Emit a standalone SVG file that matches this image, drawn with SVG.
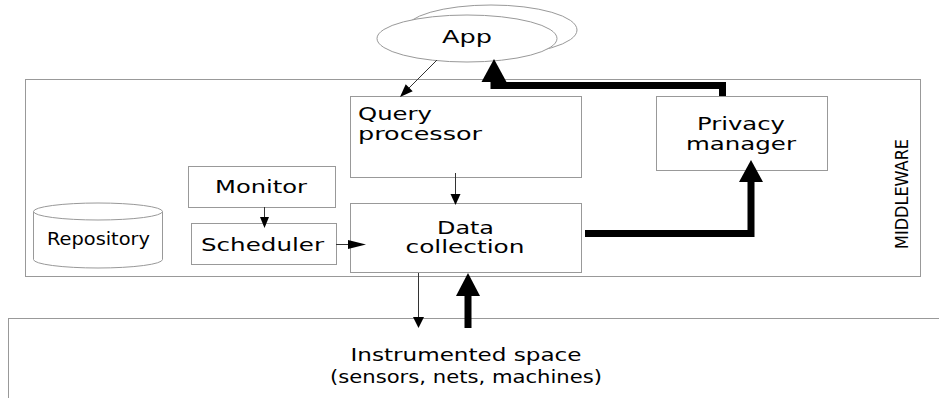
<svg xmlns="http://www.w3.org/2000/svg" width="939" height="398" viewBox="0 0 939 398">
<style>
.box{fill:#fff;stroke:#999;stroke-width:1}
.t{font-family:"DejaVu Sans","Liberation Sans",sans-serif;fill:#000;font-size:17px}
.thin{stroke:#333;stroke-width:1;fill:none}
.thick{stroke:#000;stroke-width:7;fill:none;stroke-linejoin:miter}
.head{fill:#000}
</style>
<rect width="939" height="398" fill="#fff"/>
<g id="middleware">
<rect class="box" x="25.5" y="79.5" width="895" height="197"/>
<text class="t" transform="translate(908,194) rotate(-90)" text-anchor="middle" font-size="24" textLength="110" lengthAdjust="spacingAndGlyphs">MIDDLEWARE</text>
</g>
<g id="instrumented">
<rect class="box" x="8.5" y="318.5" width="940" height="100"/>
<text class="t" x="466" y="361" text-anchor="middle" font-size="16" textLength="231" lengthAdjust="spacingAndGlyphs">Instrumented space</text>
<text class="t" x="466" y="383" text-anchor="middle" font-size="16" textLength="272" lengthAdjust="spacingAndGlyphs">(sensors, nets, machines)</text>
</g>
<g id="app">
<ellipse class="box" cx="491" cy="30" rx="86" ry="25"/>
<ellipse class="box" cx="467" cy="38.5" rx="90" ry="23.5"/>
<text class="t" x="467" y="43" text-anchor="middle" textLength="50" lengthAdjust="spacingAndGlyphs">App</text>
</g>
<g id="query">
<rect class="box" x="350.5" y="96.5" width="231" height="81"/>
<text class="t" x="358" y="120" textLength="74" lengthAdjust="spacingAndGlyphs">Query</text>
<text class="t" x="358" y="140" textLength="124" lengthAdjust="spacingAndGlyphs">processor</text>
</g>
<g id="privacy">
<rect class="box" x="656.5" y="96.5" width="171" height="74"/>
<text class="t" x="741" y="130" text-anchor="middle" textLength="88" lengthAdjust="spacingAndGlyphs">Privacy</text>
<text class="t" x="741" y="150" text-anchor="middle" textLength="110" lengthAdjust="spacingAndGlyphs">manager</text>
</g>
<g id="monitor">
<rect class="box" x="188.5" y="166.5" width="147" height="41"/>
<text class="t" x="261" y="193" text-anchor="middle" textLength="92" lengthAdjust="spacingAndGlyphs">Monitor</text>
</g>
<g id="scheduler">
<rect class="box" x="191.5" y="223.5" width="145" height="41"/>
<text class="t" x="262.5" y="250.5" text-anchor="middle" textLength="123" lengthAdjust="spacingAndGlyphs">Scheduler</text>
</g>
<g id="repository">
<path class="box" d="M33.5,211.5 V259.5 A64.5,8.5 0 0 0 162.5,259.5 V211.5"/>
<ellipse class="box" cx="98" cy="211.5" rx="64.5" ry="8.5"/>
<text class="t" x="98.5" y="245" text-anchor="middle" font-size="13.5" textLength="103" lengthAdjust="spacingAndGlyphs">Repository</text>
</g>
<g id="datacollection">
<rect class="box" x="350.5" y="203.5" width="231" height="69"/>
<text class="t" x="465.5" y="234" text-anchor="middle" textLength="57" lengthAdjust="spacingAndGlyphs">Data</text>
<text class="t" x="465" y="253" text-anchor="middle" textLength="119" lengthAdjust="spacingAndGlyphs">collection</text>
</g>
<g id="connectors">
<line class="thin" x1="437" y1="60" x2="407" y2="90" stroke="#666"/>
<polygon class="head" points="400,97 412.7,91.3 405.7,84.3"/>
<line class="thin" x1="455.5" y1="173" x2="455.5" y2="195"/>
<polygon class="head" points="455.5,205 450.5,194 460.5,194"/>
<line class="thin" x1="264.5" y1="207" x2="264.5" y2="218"/>
<polygon class="head" points="264.5,228 260,217 269,217"/>
<line class="thin" x1="336" y1="244.5" x2="350" y2="244.5"/>
<polygon class="head" points="366,244.5 348,240 348,249"/>
<line class="thin" x1="418.5" y1="273" x2="418.5" y2="318"/>
<polygon class="head" points="418.5,328 413,317 424,317"/>
<line class="thick" x1="468" y1="328" x2="468" y2="294"/>
<polygon class="head" points="468,273 456,296 480,296"/>
<path class="thick" d="M585,233.5 H751 V180"/>
<polygon class="head" points="751,160 739,182 763,182"/>
<path class="thick" d="M722.5,96 V85.5 H490.5"/>
<polygon class="head" points="494,59 481.5,82 506.5,82"/>
</g>
</svg>
